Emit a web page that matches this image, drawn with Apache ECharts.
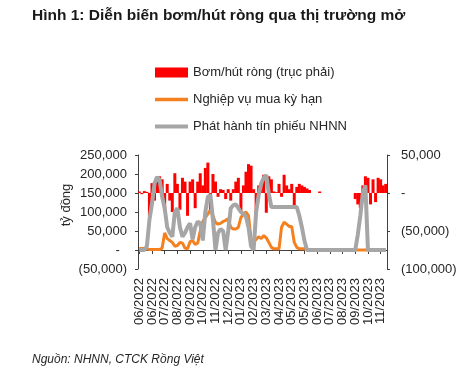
<!DOCTYPE html>
<html>
<head>
<meta charset="utf-8">
<script src="https://cdn.jsdelivr.net/npm/echarts@6/dist/echarts.min.js"></script>
<style>
html,body{margin:0;padding:0;background:#fff;}
#c{width:469px;height:373px;}
</style>
</head>
<body>
<div id="c"></div>
<script>
// Tick labels (one every 5 points)
var tickLabels = ['06/2022','06/2022','07/2022','08/2022','09/2022','10/2022','11/2022','12/2022','01/2023','02/2023',
  '03/2023','04/2023','05/2023','05/2023','06/2023','07/2023','08/2023','09/2023','10/2023','11/2023'];

// Bơm/hút ròng (right axis), tỷ đồng
var netInjection = [2000,-1500,2500,1500,-30000,13000,-10000,15000,22000,18000,
  -25000,12000,-10000,-25000,26000,12000,-22000,20000,15000,-30000,
  15000,18000,-20000,15000,26000,10000,33000,40000,-25000,25000,
  15000,-5000,5000,4000,-8000,5000,-10000,5000,15000,20000,
  -25000,10000,28000,38000,36000,5000,-28000,10000,12000,24000,
  -26000,22000,18000,2000,1000,12000,-5000,24000,10000,5000,
  12000,-16000,8000,12000,10000,8000,6000,4000,null,null,
  null,2000,null,null,null,null,null,null,null,null,
  null,null,null,null,null,-8000,-15000,-20000,10000,22000,
  20000,-15000,18000,-12000,20000,18000,10000,12000];

// Nghiệp vụ mua kỳ hạn (left axis)
var repo = [4000,4000,4000,3000,1000,1000,1000,1000,1000,5000,
  45000,30000,25000,20000,10000,12000,20000,18000,5000,3000,
  22000,25000,15000,18000,50000,75000,85000,95000,105000,90000,
  72000,68000,70000,75000,78000,82000,60000,55000,55000,60000,
  85000,95000,100000,90000,30000,22000,28000,35000,30000,38000,
  32000,20000,7000,3000,3000,3000,60000,73000,68000,62000,
  62000,20000,7000,3000,3000,3000,0,0,0,0,
  0,0,0,0,0,0,0,0,0,0,
  0,0,0,0,0,0,0,0,0,0,
  0,0,0,0,0,0,0,0];

// Phát hành tín phiếu NHNN (left axis)
var bills = [0,0,0,10000,80000,122000,175000,192000,185000,140000,
  110000,60000,45000,35000,100000,110000,60000,35000,45000,60000,
  70000,28000,60000,75000,70000,25000,100000,140000,145000,80000,
  0,45000,55000,50000,0,50000,110000,118000,120000,110000,
  100000,95000,88000,60000,10000,0,100000,145000,175000,190000,
  197000,148000,113000,113000,113000,113000,113000,113000,113000,113000,
  113000,113000,113000,90000,60000,25000,0,0,0,0,
  0,0,0,0,0,0,0,0,0,0,
  0,0,0,0,0,0,40000,90000,150000,170000,
  0,0,0,0,0,0,0,0];

var seriesNames = ['Bơm/hút ròng (trục phải)','Nghiệp vụ mua kỳ hạn','Phát hành tín phiếu NHNN'];
var seriesColors = ['#FF0000','#F4801F','#A6A6A6'];

var categories = netInjection.map(function(v,i){return String(i);});

function fmt(v){
  if (v === 0) return '-';
  var s = Math.abs(v).toString().replace(/\B(?=(\d{3})+(?!\d))/g, ',');
  return v < 0 ? '(' + s + ')' : s;
}

var FONT = "'Liberation Sans', Arial, sans-serif";
var TXT = '#262626';
var AX = '#404040';

var chart = echarts.init(document.getElementById('c'), null, {renderer:'canvas'});
chart.setOption({
  animation:false,
  backgroundColor:'#fff',
  textStyle:{fontFamily:FONT},
  title:[
    {text:'Hình 1: Diễn biến bơm/hút ròng qua thị trường mở', left:32, top:8, padding:0,
     textStyle:{fontFamily:FONT, fontSize:15.5, fontWeight:'bold', color:'#1a1a1a'}},
    {text:'Nguồn: NHNN, CTCK Rồng Việt', left:32, top:354, padding:0,
     textStyle:{fontFamily:FONT, fontSize:12, fontStyle:'italic', fontWeight:'normal', color:'#262626'}}
  ],
  legend:[0,1,2].map(function(k){
    return {data:[{name:seriesNames[k], icon:'rect', itemStyle:{color:seriesColors[k]}}],
      left:155, top:[66,93,120][k], padding:0,
      itemWidth:33, itemHeight:[10,3.5,4][k], selectedMode:false,
      textStyle:{fontFamily:FONT, fontSize:13, color:TXT}};
  }),
  graphic:[{type:'text', x:66, y:205, rotation:Math.PI/2,
    style:{text:'tỷ đồng', fill:TXT, font:'13px ' + FONT, align:'center', verticalAlign:'middle'}}],
  grid:{left:138, right:82, top:155, bottom:104, containLabel:false},
  xAxis:[
    {type:'category', data:categories, position:'bottom', boundaryGap:true,
     axisLine:{onZero:true, onZeroAxisIndex:0, lineStyle:{color:AX, width:1}},
     axisTick:{show:true, interval:4, alignWithLabel:true, length:4, inside:false, lineStyle:{color:AX}},
     axisLabel:{show:false}, splitLine:{show:false}},
    {type:'category', data:categories, position:'bottom', boundaryGap:true,
     axisLine:{show:false, onZero:false}, axisTick:{show:false},
     axisLabel:{show:true, interval:0, rotate:90, margin:9, fontSize:13, color:TXT, fontFamily:FONT,
       hideOverlap:false,
       formatter:function(v,i){return (i % 5 === 0 && tickLabels[i/5]) ? tickLabels[i/5] : '';}},
     splitLine:{show:false}}
  ],
  yAxis:[
    {type:'value', min:-50000, max:250000, interval:50000, position:'left',
     axisLine:{show:true, lineStyle:{color:AX}}, axisTick:{show:true, length:3, lineStyle:{color:AX}},
     splitLine:{show:false},
     axisLabel:{margin:11, fontSize:13, color:TXT, fontFamily:FONT, hideOverlap:false,
       formatter:function(v){return v===0 ? '-  ' : fmt(v);}}},
    {type:'value', min:-100000, max:50000, interval:50000, position:'right',
     axisLine:{show:true, lineStyle:{color:AX}}, axisTick:{show:true, length:3, lineStyle:{color:AX}},
     splitLine:{show:false},
     axisLabel:{margin:14, fontSize:13, color:TXT, fontFamily:FONT, hideOverlap:false, formatter:fmt}}
  ],
  series:[
    {name:seriesNames[0], type:'bar', xAxisIndex:0, yAxisIndex:1, data:netInjection,
     barWidth:3, itemStyle:{color:seriesColors[0]}},
    {name:seriesNames[1], type:'line', xAxisIndex:0, yAxisIndex:0, data:repo,
     symbol:'none', showSymbol:false, lineStyle:{color:seriesColors[1], width:3}, itemStyle:{color:seriesColors[1]}},
    {name:seriesNames[2], type:'line', xAxisIndex:0, yAxisIndex:0, data:bills,
     symbol:'none', showSymbol:false, lineStyle:{color:seriesColors[2], width:4}, itemStyle:{color:seriesColors[2]}}
  ]
});
</script>
</body>
</html>
